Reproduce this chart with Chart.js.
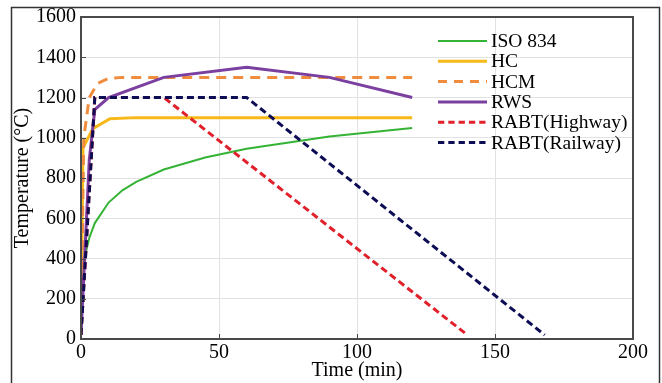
<!DOCTYPE html>
<html>
<head>
<meta charset="utf-8">
<script src="https://cdn.jsdelivr.net/npm/chart.js@4.4.0/dist/chart.umd.min.js"></script>
<style>
html,body{margin:0;padding:0;background:#fff;}
#wrap{width:662px;height:383px;position:relative;}
</style>
</head>
<body>
<div id="wrap"><canvas id="c" width="662" height="383"></canvas></div>
<script>
// ---- data ----
const seriesNames = ["ISO 834", "HC", "HCM", "RWS", "RABT(Highway)", "RABT(Railway)"];
const isoT = [0, 1, 2, 3, 5, 10, 15, 20, 30, 45, 60, 90, 120];
const isoV = [20, 349, 445, 502, 576, 678, 739, 781, 842, 902, 945, 1006, 1049];
const hcT = [0, 0.7, 4.3, 10.5, 20, 120];
const hcV = [20, 950, 1045, 1095, 1100, 1100];
const hcmT = [0, 1, 3, 6, 10, 15, 120];
const hcmV = [20, 1000, 1200, 1270, 1295, 1300, 1300];
const rwsT = [0, 3, 5, 10, 30, 60, 90, 120];
const rwsV = [20, 890, 1140, 1200, 1300, 1350, 1300, 1200];
const rabtHT = [0, 5, 30, 140];
const rabtHV = [20, 1200, 1200, 20];
const rabtRT = [0, 5, 60, 168];
const rabtRV = [20, 1200, 1200, 20];
const xTicks = [0, 50, 100, 150, 200];
const yTicks = [0, 200, 400, 600, 800, 1000, 1200, 1400, 1600];

function pts(t, v) { return t.map((x, i) => ({x: x, y: v[i]})); }

const styles = [
  {color: "#35b335", width: 2, dash: []},
  {color: "#f7b81a", width: 3, dash: []},
  {color: "#ef8c3e", width: 3, dash: [10, 7]},
  {color: "#7b3fa0", width: 3, dash: []},
  {color: "#e0202a", width: 3, dash: [7, 4]},
  {color: "#0d0d55", width: 3, dash: [7, 4]}
];
const allData = [pts(isoT, isoV), pts(hcT, hcV), pts(hcmT, hcmV), pts(rwsT, rwsV), pts(rabtHT, rabtHV), pts(rabtRT, rabtRV)];
const orders = [5, 4, 3, 2, 1, 0];

const datasets = seriesNames.map((n, i) => ({
  label: n,
  data: allData[i],
  borderColor: styles[i].color,
  backgroundColor: styles[i].color,
  borderWidth: styles[i].width,
  borderDash: styles[i].dash,
  pointRadius: 0,
  tension: 0,
  fill: false,
  order: orders[i]
}));

const serif = "'Liberation Serif', 'Times New Roman', serif";

const framePlugin = {
  id: 'frame',
  beforeDraw(chart) {
    const ctx = chart.ctx;
    ctx.save();
    ctx.fillStyle = '#fff';
    ctx.fillRect(0, 0, chart.width, chart.height);
    ctx.strokeStyle = '#333';
    ctx.lineWidth = 1.5;
    ctx.strokeRect(11.5, 7.5, 648, 390);
    ctx.restore();
  },
  afterDraw(chart) {
    const ctx = chart.ctx;
    const a = chart.chartArea;
    const xs = chart.scales.x, ys = chart.scales.y;
    ctx.save();
    ctx.strokeStyle = '#4a4a4a';
    ctx.lineWidth = 2;
    ctx.setLineDash([]);
    ctx.strokeRect(a.left, a.top, a.right - a.left, a.bottom - a.top);
    // inward ticks
    ctx.lineWidth = 1;
    xTicks.forEach(v => {
      const px = Math.round(xs.getPixelForValue(v)) + 0.5;
      ctx.beginPath(); ctx.moveTo(px, a.bottom); ctx.lineTo(px, a.bottom - 5); ctx.stroke();
    });
    yTicks.forEach(v => {
      const py = Math.round(ys.getPixelForValue(v)) + 0.5;
      ctx.beginPath(); ctx.moveTo(a.left, py); ctx.lineTo(a.left + 5, py); ctx.stroke();
    });
    // legend
    const ly0 = 41, step = 20.3;
    ctx.font = "19.5px " + serif;
    ctx.textBaseline = 'middle';
    ctx.textAlign = 'left';
    seriesNames.forEach((n, i) => {
      const y = ly0 + i * step;
      ctx.strokeStyle = styles[i].color;
      ctx.lineWidth = styles[i].width;
      ctx.setLineDash(styles[i].dash.length ? [styles[i].dash[0] * 0.9, styles[i].dash[1]] : []);
      ctx.beginPath(); ctx.moveTo(438, y); ctx.lineTo(487, y); ctx.stroke();
      ctx.setLineDash([]);
      ctx.fillStyle = '#000';
      ctx.fillText(n, 491, y + 1);
    });
    ctx.restore();
  }
};

new Chart(document.getElementById('c'), {
  type: 'line',
  data: {datasets: datasets},
  options: {
    responsive: false,
    animation: false,
    devicePixelRatio: 1,
    layout: {padding: {top: 13, right: 29, left: 0, bottom: 0}},
    plugins: {legend: {display: false}, tooltip: {enabled: false}},
    scales: {
      x: {
        type: 'linear', min: 0, max: 200,
        afterBuildTicks: s => { s.ticks = xTicks.map(v => ({value: v})); },
        afterFit: s => { s.height = 44; },
        grid: {color: '#e2e2e2', lineWidth: 1, drawTicks: false, tickLength: 0},
        border: {display: false},
        ticks: {color: '#000', font: {family: serif, size: 20}, padding: 2, maxRotation: 0, callback: v => String(v)},
        title: {display: true, text: 'Time (min)', color: '#000', font: {family: serif, size: 20, lineHeight: 1.2}, padding: {top: 0, bottom: 0}}
      },
      y: {
        min: 0, max: 1600,
        afterBuildTicks: s => { s.ticks = yTicks.map(v => ({value: v})); },
        afterFit: s => { s.width = 81; },
        grid: {color: '#e2e2e2', lineWidth: 1, drawTicks: false, tickLength: 0},
        border: {display: false},
        ticks: {color: '#000', font: {family: serif, size: 20}, padding: 5, callback: v => String(v)},
        title: {display: true, text: 'Temperature (°C)', color: '#000', font: {family: serif, size: 20, lineHeight: 1.2}, padding: {top: 11, bottom: 0}}
      }
    }
  },
  plugins: [framePlugin]
});
</script>
</body>
</html>
